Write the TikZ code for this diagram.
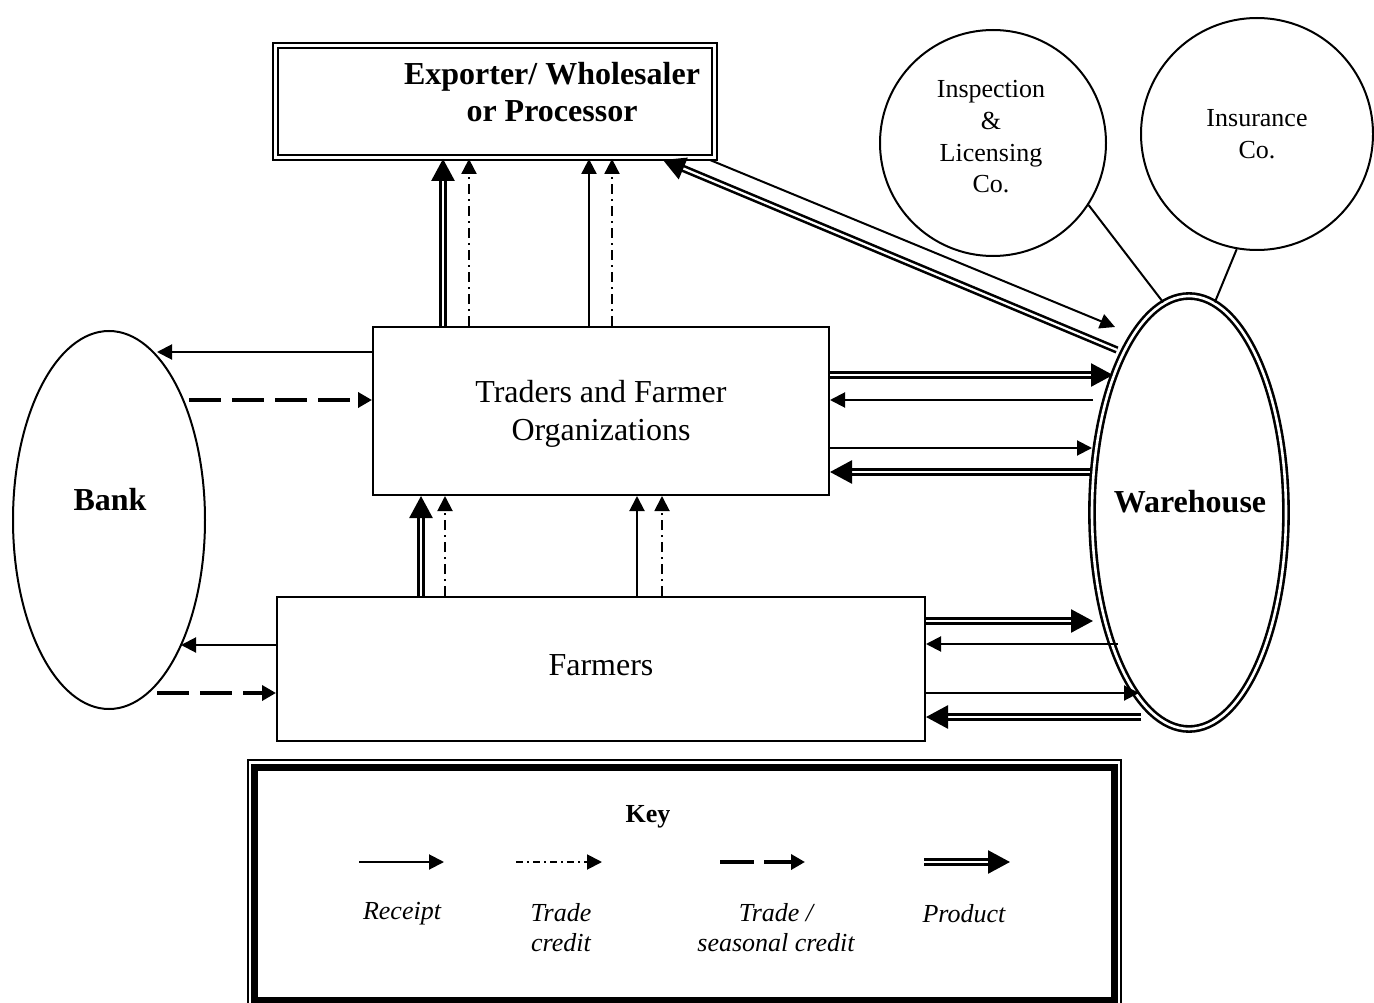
\documentclass[tikz,border=0pt]{standalone}
\usepackage{fontspec}
\setmainfont{Liberation Serif}
\usetikzlibrary{arrows.meta,shapes.geometric}
\begin{document}
\begin{tikzpicture}[x=1pt,y=-1pt,
  box/.style={draw, line width=2pt, rectangle, inner sep=0pt},
  recpt/.style={line width=2pt, -{Triangle[length=15pt,width=15pt]}},
  tcred/.style={line width=1.9pt, dash pattern=on 10pt off 5pt on 2pt off 5pt, -{Triangle[length=15pt,width=15pt]}},
  scred/.style={line width=3.5pt, dash pattern=on 32pt off 11pt, -{Triangle[length=14pt,width=15pt]}},
  prod/.style={double, line width=2.6pt, double distance=2.2pt, -{Triangle[length=22pt,width=23pt]}},
  plain/.style={line width=2pt},
  big/.style={font=\fontsize{32}{38}\selectfont, align=center, inner sep=0pt},
  bigb/.style={font=\bfseries\fontsize{32}{37}\selectfont, align=center, inner sep=0pt},
  mid/.style={font=\fontsize{26}{31.7}\selectfont, align=center, inner sep=0pt},
  keyt/.style={font=\itshape\fontsize{26}{30}\selectfont, align=center, inner sep=0pt},
]
\useasboundingbox (0,0) rectangle (1374,1003);

% main shapes
\node[draw, double, line width=2.8pt, double distance=2.2pt, rectangle, inner sep=0pt,
      minimum width=439pt, minimum height=112pt] (exp) at (495,101.5) {};
\node[bigb] (exptext) at (552,92) {Exporter/ Wholesaler\\or Processor};

\node[box, minimum width=456pt, minimum height=168pt] (traders) at (601,411) {};
\node[big] (tradtext) at (601,414) {Traders and Farmer\\Organizations};

\node[box, minimum width=648pt, minimum height=144pt] (farmers) at (601,669) {};
\node[big] (farmtext) at (601,665) {Farmers};

\node[draw, ellipse, line width=2pt, inner sep=0pt, minimum width=192pt, minimum height=378pt] (bank) at (109,520) {};
\node[bigb] (banktext) at (110,500) {Bank};

\node[draw, ellipse, double, line width=2.6pt, double distance=2.6pt, inner sep=0pt,
      minimum width=194pt, minimum height=433pt] (ware) at (1189,512.5) {};
\node[bigb] (waretext) at (1190,502) {Warehouse};

\node[draw, circle, line width=2pt, inner sep=0pt, minimum size=226pt] (insp) at (993,143) {};
\node[mid] (insptext) at (991,137) {Inspection\\\&\\Licensing\\Co.};
\node[draw, circle, line width=2pt, inner sep=0pt, minimum size=232pt, mid] (insu) at (1257,134) {Insurance\\Co.};

\draw[plain] (insp.-33) -- (ware.97);
\draw[plain] (insu.260.7) -- (ware.83.5);

% columns
\coordinate (c1) at (443,0);
\coordinate (c2) at (469,0);
\coordinate (c3) at (589,0);
\coordinate (c4) at (612,0);
\coordinate (c5) at (421,0);
\coordinate (c6) at (445,0);
\coordinate (c7) at (637,0);
\coordinate (c8) at (662,0);

% traders -> exporter
\draw[prod]  (traders.north -| c1) -- (exp.south -| c1);
\draw[tcred] (traders.north -| c2) -- (exp.south -| c2);
\draw[recpt] (traders.north -| c3) -- (exp.south -| c3);
\draw[tcred] (traders.north -| c4) -- (exp.south -| c4);

% farmers -> traders
\draw[prod]  (farmers.north -| c5) -- (traders.south -| c5);
\draw[tcred] (farmers.north -| c6) -- (traders.south -| c6);
\draw[recpt] (farmers.north -| c7) -- (traders.south -| c7);
\draw[tcred] (farmers.north -| c8) -- (traders.south -| c8);

% exporter <-> warehouse
\coordinate (e1) at (663,160);
\coordinate (e2) at (1117,350);
\coordinate (e3) at (710,160);
\coordinate (e4) at (1115,327);
\draw[prod] (e2) -- (e1);
\draw[recpt] (e3) -- (e4);

% traders <-> warehouse
\coordinate (w1) at (1113,375);
\coordinate (w2) at (1093,400);
\coordinate (w3) at (1092,448);
\coordinate (w4) at (1090,472);
\draw[prod]  (traders.east |- w1) -- (w1);
\draw[recpt] (w2) -- (traders.east |- w2);
\draw[recpt] (traders.east |- w3) -- (w3);
\draw[prod]  (w4) -- (traders.east |- w4);

% farmers <-> warehouse
\coordinate (f1) at (1093,621);
\coordinate (f2) at (1118,644);
\coordinate (f3) at (1139,693);
\coordinate (f4) at (1141,717);
\draw[prod]  (farmers.east |- f1) -- (f1);
\draw[recpt] (f2) -- (farmers.east |- f2);
\draw[recpt] (farmers.east |- f3) -- (f3);
\draw[prod]  (f4) -- (farmers.east |- f4);

% bank arrows
\coordinate (b1) at (157,352);
\coordinate (b2) at (189,400);
\coordinate (b3) at (181,645);
\coordinate (b4) at (157,693);
\draw[recpt] (traders.west |- b1) -- (b1);
\draw[scred] (b2) -- (traders.west |- b2);
\draw[recpt] (farmers.west |- b3) -- (b3);
\draw[scred] (b4) -- (farmers.west |- b4);

% key
\draw[line width=2pt] (248,760) rectangle (1121,1012);
\draw[line width=7pt] (254.5,767.5) rectangle (1114,1000.5);
\node[font=\bfseries\fontsize{26}{30}\selectfont, inner sep=0pt] (keytitle) at (648,817) {Key};
\coordinate (k1a) at (359,862); \coordinate (k1b) at (444,862);
\coordinate (k2a) at (516,862); \coordinate (k2b) at (602,862);
\coordinate (k3a) at (720,862); \coordinate (k3b) at (805,862);
\coordinate (k4a) at (924,862); \coordinate (k4b) at (1010,862);
\draw[recpt] (k1a) -- (k1b);
\draw[tcred, dash pattern=on 7pt off 4pt on 2pt off 4pt] (k2a) -- (k2b);
\draw[scred, dash pattern=on 34pt off 10pt] (k3a) -- (k3b);
\draw[prod] (k4a) -- (k4b);
\node[keyt] (l1) at (402,914) {Receipt};
\node[keyt] (l2) at (561,928) {Trade\\credit};
\node[keyt] (l3) at (776,928) {Trade /\\seasonal credit};
\node[keyt] (l4) at (964,914) {Product};
\end{tikzpicture}
\end{document}
